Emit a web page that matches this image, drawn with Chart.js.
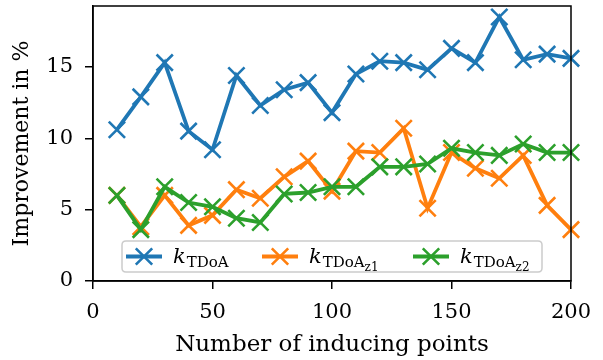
<!DOCTYPE html>
<html><head><meta charset="utf-8">
<script src="https://cdn.jsdelivr.net/npm/chart.js@4"></script>
<style>html,body{margin:0;padding:0;background:#fff}canvas{display:block}</style>
</head><body>
<canvas id="c" width="603" height="360"></canvas>
<script>
const inducingPoints = [10,20,30,40,50,60,70,80,90,100,110,120,130,140,150,160,170,180,190,200];
const kTDoA   = [10.6,12.9,15.3,10.5,9.2,14.4,12.3,13.4,13.9,11.8,14.5,15.4,15.3,14.8,16.3,15.3,18.5,15.5,15.9,15.6];
const kTDoAz1 = [6.0,3.8,6.0,3.9,4.6,6.4,5.8,7.3,8.4,6.3,9.1,9.0,10.7,5.1,9.0,7.9,7.2,8.8,5.3,3.6];
const kTDoAz2 = [6.0,3.6,6.6,5.5,5.2,4.4,4.1,6.1,6.2,6.6,6.6,8.0,8.0,8.2,9.3,9.0,8.8,9.6,9.0,9.0];
const xTicks = [0,50,100,150,200];
const yTicks = [0,5,10,15];
const seriesMain = ['k','k','k'];
const seriesSub = ['TDoA','TDoA','TDoA'];
const seriesSubSub = ['','z1','z2'];
const colors = ['#1f77b4','#ff7f0e','#2ca02c'];
const FONT = 'DejaVu Serif';

function ds(vals, i, order){
  return {
    data: inducingPoints.map((x,j)=>({x:x,y:vals[j]})),
    borderColor: colors[i], backgroundColor: colors[i],
    borderWidth: 3.8, pointStyle: 'crossRot', pointRadius: 11.5, pointHoverRadius: 11.5,
    pointBorderWidth: 2.6, tension: 0, fill: false, order: order, clip: false
  };
}

const framePlugin = {
  id: 'frame',
  afterDatasetsDraw(chart){
    const {ctx, chartArea:a} = chart;
    ctx.save();
    ctx.strokeStyle = '#000'; ctx.lineWidth = 1.5;
    ctx.strokeRect(a.left, a.top, a.right-a.left, a.bottom-a.top);
    // legend
    const bx = 122, by = 241, bw = 420, bh = 31, r = 4;
    ctx.beginPath();
    ctx.moveTo(bx+r,by); ctx.lineTo(bx+bw-r,by); ctx.quadraticCurveTo(bx+bw,by,bx+bw,by+r);
    ctx.lineTo(bx+bw,by+bh-r); ctx.quadraticCurveTo(bx+bw,by+bh,bx+bw-r,by+bh);
    ctx.lineTo(bx+r,by+bh); ctx.quadraticCurveTo(bx,by+bh,bx,by+bh-r);
    ctx.lineTo(bx,by+r); ctx.quadraticCurveTo(bx,by,bx+r,by); ctx.closePath();
    ctx.fillStyle = 'rgba(255,255,255,0.8)'; ctx.fill();
    ctx.strokeStyle = '#cccccc'; ctx.lineWidth = 1.5; ctx.stroke();
    const starts = [126, 262, 413];
    const cy = 256.5;
    for (let i=0;i<3;i++){
      const x0 = starts[i];
      ctx.strokeStyle = colors[i]; ctx.lineWidth = 3.8; ctx.lineCap='butt';
      ctx.beginPath(); ctx.moveTo(x0,cy); ctx.lineTo(x0+36,cy); ctx.stroke();
      const mx = x0+18, m = 8.2;
      ctx.lineWidth = 2.6;
      ctx.beginPath(); ctx.moveTo(mx-m,cy-m); ctx.lineTo(mx+m,cy+m);
      ctx.moveTo(mx-m,cy+m); ctx.lineTo(mx+m,cy-m); ctx.stroke();
      ctx.fillStyle = '#000'; ctx.textBaseline = 'alphabetic'; ctx.textAlign='left';
      let tx = x0 + 47;
      ctx.font = 'italic 21px "' + FONT + '"';
      ctx.fillText(seriesMain[i], tx, cy+6);
      tx += ctx.measureText(seriesMain[i]).width + 1;
      ctx.font = '15px "' + FONT + '"';
      ctx.fillText(seriesSub[i], tx, cy+10);
      tx += ctx.measureText(seriesSub[i]).width;
      if (seriesSubSub[i]) {
        ctx.font = '12px "' + FONT + '"';
        ctx.fillText(seriesSubSub[i], tx, cy+14);
      }
    }
    ctx.restore();
  }
};

new Chart(document.getElementById('c'), {
  type: 'line',
  data: { datasets: [ ds(kTDoA,0,2), ds(kTDoAz1,1,1), ds(kTDoAz2,2,0) ] },
  options: {
    responsive: false, animation: false, devicePixelRatio: 1,
    layout: { autoPadding: false, padding: { top: 6, right: 32, left: 0, bottom: 0 } },
    plugins: { legend: { display: false }, tooltip: { enabled: false } },
    scales: {
      x: {
        type: 'linear', min: 0, max: 200,
        afterBuildTicks(s){ s.ticks = xTicks.map(v=>({value:v})); },
        afterFit(s){ s.height = 79; s.paddingLeft = 0; s.paddingRight = 0; },
        grid: { drawOnChartArea: false, drawTicks: true, tickLength: 8, color: '#000', lineWidth: 1.5 },
        border: { display: true, color: '#000', width: 1.5 },
        ticks: { color: '#000', font: { family: FONT, size: 21 }, padding: 11, maxRotation: 0 },
        title: { display: true, text: 'Number of inducing points', color: '#000', font: { family: FONT, size: 23 }, padding: { top: 0, bottom: 1 } }
      },
      y: {
        type: 'linear', min: 0, max: 19.27,
        afterBuildTicks(s){ s.ticks = yTicks.map(v=>({value:v})); },
        afterFit(s){ s.width = 93; s.paddingTop = 0; s.paddingBottom = 0; },
        grid: { drawOnChartArea: false, drawTicks: true, tickLength: 8, color: '#000', lineWidth: 1.5 },
        border: { display: true, color: '#000', width: 1.5 },
        ticks: { color: '#000', font: { family: FONT, size: 21 }, padding: 12 },
        title: { display: true, text: 'Improvement in %', color: '#000', font: { family: FONT, size: 22 }, padding: { top: 9, bottom: 0 } }
      }
    }
  },
  plugins: [framePlugin]
});
</script>
</body></html>
